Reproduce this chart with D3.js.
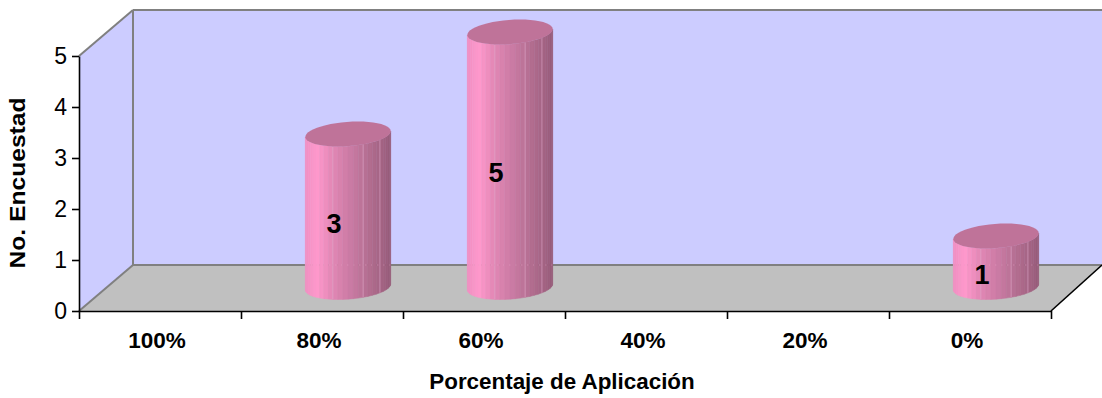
<!DOCTYPE html>
<html>
<head>
<meta charset="utf-8">
<script src="https://cdn.jsdelivr.net/npm/d3@7"></script>
<style>
html,body{margin:0;padding:0;background:#fff}
svg{display:block}
text{font-family:"Liberation Sans",Arial,sans-serif;fill:#000}
</style>
</head>
<body>
<svg id="chart" width="1102" height="398"></svg>
<script>
// Survey results: respondents per application percentage
const categories = ["100%", "80%", "60%", "40%", "20%", "0%"];
const counts = [0, 3, 5, 0, 0, 1];
const countTicks = [0, 1, 2, 3, 4, 5];
const yTitle = "No. Encuestad";
const xTitle = "Porcentaje de Aplicación";

const svg = d3.select("#chart");
const x = d3.scaleBand().domain(categories).range([79, 1051]);
const y = d3.scaleLinear().domain([0, 5]).range([311, 56]);

// Oblique projection of the chart box
const depthX = 54, depthY = 46;
const x0 = x.range()[0], x1 = x.range()[1], y0 = y(0), yTop = y(5);

// Walls and floor
const poly = pts => pts.map(p => p.join(",")).join(" ");
svg.append("polygon").attr("fill", "#ccccff")
  .attr("points", poly([[x0, y0], [x0, yTop], [x0 + depthX, yTop - depthY], [1102, yTop - depthY], [1102, y0 - depthY], [x0 + depthX, y0 - depthY]]));
svg.append("polygon").attr("fill", "#c0c0c0")
  .attr("points", poly([[x0, y0], [x0 + depthX, y0 - depthY], [1102, y0 - depthY], [x1, y0]]));

// Grey box edges
const edges = [
  [[x0, yTop], [x0 + depthX, yTop - depthY]],
  [[x0 + depthX, yTop - depthY], [1102, yTop - depthY]],
  [[x0 + depthX, yTop - depthY], [x0 + depthX, y0 - depthY]],
  [[x0 + depthX, y0 - depthY], [1102, y0 - depthY]],
  [[x0, y0], [x0 + depthX, y0 - depthY]]
];
svg.append("g").selectAll("line").data(edges).join("line")
  .attr("x1", d => d[0][0]).attr("y1", d => d[0][1])
  .attr("x2", d => d[1][0]).attr("y2", d => d[1][1])
  .attr("stroke", "#808080").attr("stroke-width", 2);
svg.append("line").attr("x1", x1).attr("y1", y0).attr("x2", x1 + 51).attr("y2", y0 - 46)
  .attr("stroke", "#000").attr("stroke-width", 1.6);

// Cylinder geometry: a circle lying in the floor plane, projected
const halfA = 41.5, skewB = 10, halfC = 12.5;
const cyDepth = 24, cxDepth = 26;
const rimAt = (cx, cy, t) => [cx + halfA * Math.cos(t) + skewB * Math.sin(t), cy - halfC * Math.sin(t)];
const tRight = Math.atan2(skewB, halfA);
const facetCount = 26;
const shade = d3.scaleLinear()
  .domain([0, 0.14, 0.3, 0.55, 0.8, 1])
  .range(["#f08fc2", "#ff99cc", "#e488b6", "#c87aa2", "#ad6a8b", "#985c7a"]);

const bars = categories.map((c, i) => ({c, v: counts[i]})).filter(d => d.v > 0);
const barG = svg.append("g").selectAll("g").data(bars).join("g");

barG.each(function (d) {
  const g = d3.select(this);
  const cx = x(d.c) + x.bandwidth() / 2 + cxDepth;
  const base = y(0) - cyDepth;
  const top = y(d.v) - cyDepth;
  const angles = d3.range(facetCount + 1).map(k => tRight + Math.PI + k * Math.PI / facetCount);
  const extent = Math.hypot(halfA, skewB);

  // Side of the cylinder, one strip per facet
  d3.pairs(angles).forEach(([a, b]) => {
    const pa = rimAt(cx, 0, a), pb = rimAt(cx, 0, b);
    const frac = ((pa[0] + pb[0]) / 2 - cx + extent) / (2 * extent);
    const col = shade(frac);
    g.append("polygon").attr("fill", col).attr("stroke", col).attr("stroke-width", 0.5)
      .attr("points", poly([
        [pa[0], pa[1] + top], [pb[0], pb[1] + top],
        [pb[0], pb[1] + base], [pa[0], pa[1] + base]
      ]));
  });

  // Pale seams between groups of facets
  [10, 16, 20].forEach(k => {
    const p = rimAt(cx, 0, angles[k]);
    g.append("line").attr("x1", p[0]).attr("x2", p[0])
      .attr("y1", p[1] + top).attr("y2", p[1] + base)
      .attr("stroke", "#e3a9cb").attr("stroke-width", 0.8).attr("opacity", 0.75);
  });

  // Faint trace of the back floor edge through the translucent side
  const wallY = y0 - depthY;
  if (top < wallY) {
    g.append("line").attr("x1", cx - extent).attr("x2", cx + extent)
      .attr("y1", wallY).attr("y2", wallY)
      .attr("stroke", "#e8a8cc").attr("stroke-width", 1).attr("stroke-dasharray", "1 5").attr("opacity", 0.6);
  }

  // Top cap
  const capLine = d3.line();
  g.append("path").attr("fill", "#bf7399")
    .attr("d", capLine(d3.range(48).map(k => rimAt(cx, top, k * 2 * Math.PI / 48))) + "Z");

  // Value label
  g.append("text").attr("x", cx - 14).attr("y", (base + top) / 2 + 22)
    .attr("text-anchor", "middle").attr("font-weight", 700).attr("font-size", 27)
    .text(d.v);
});

// Value axis
const yAxis = svg.append("g").attr("transform", `translate(${x0},0)`)
  .call(d3.axisLeft(y).tickValues(countTicks).tickFormat(d3.format("d")).tickSize(7).tickSizeOuter(0).tickPadding(5));
yAxis.selectAll("path,line").attr("stroke", "#000").attr("stroke-width", 1.6);
yAxis.selectAll("text").attr("font-size", 23).attr("font-family", null);

// Category axis: ticks on band edges, labels centred in each band
const edgeScale = d3.scaleLinear().domain([0, categories.length]).range(x.range());
const xTicks = svg.append("g").attr("transform", `translate(0,${y0})`)
  .call(d3.axisBottom(edgeScale).tickValues(d3.range(categories.length + 1)).tickFormat("").tickSize(8).tickSizeOuter(0));
xTicks.selectAll("path,line").attr("stroke", "#000").attr("stroke-width", 1.6);

svg.append("g").selectAll("text").data(categories).join("text")
  .attr("x", d => x(d) + x.bandwidth() / 2 - 3).attr("y", 348)
  .attr("text-anchor", "middle").attr("font-weight", 700).attr("font-size", 22.5)
  .text(d => d);

svg.append("text").attr("x", 562).attr("y", 389).attr("text-anchor", "middle")
  .attr("font-weight", 700).attr("font-size", 22.4).text(xTitle);
svg.append("text").attr("transform", "translate(25,183) rotate(-90)").attr("text-anchor", "middle")
  .attr("font-weight", 700).attr("font-size", 22)
  .attr("textLength", 171).attr("lengthAdjust", "spacingAndGlyphs").text(yTitle);
</script>
</body>
</html>
